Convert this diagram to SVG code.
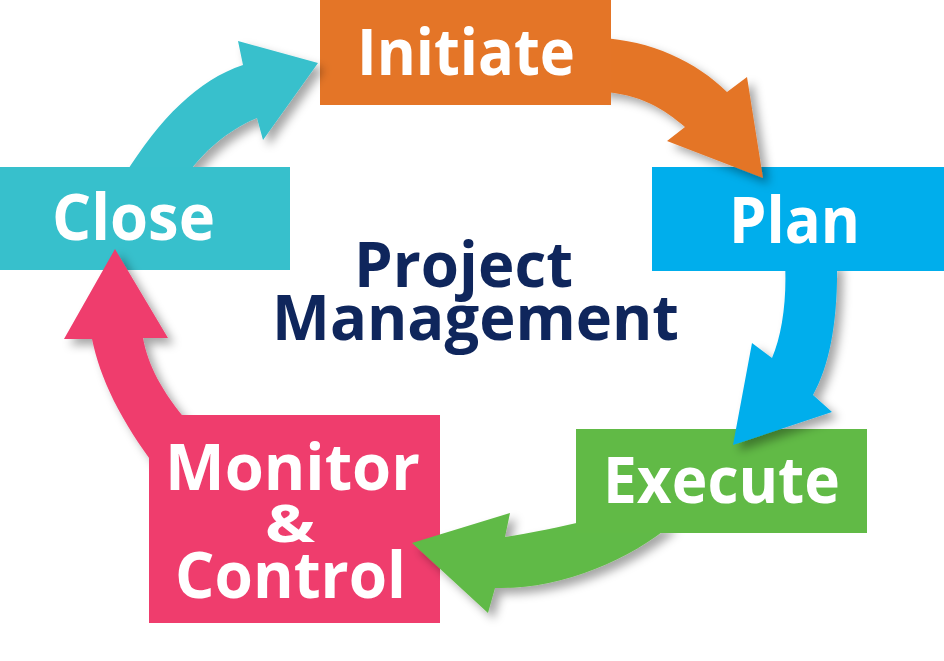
<svg xmlns="http://www.w3.org/2000/svg" width="944" height="661" viewBox="0 0 944 661">
  <defs>
    <filter id="shadow" x="-30%" y="-30%" width="160%" height="160%">
      <feGaussianBlur in="SourceAlpha" stdDeviation="5"/>
      <feOffset dx="6" dy="6" result="b"/>
      <feFlood flood-color="#000" flood-opacity="0.35"/>
      <feComposite in2="b" operator="in"/>
      <feMerge><feMergeNode/><feMergeNode in="SourceGraphic"/></feMerge>
    </filter>
    <clipPath id="noInitiate"><path clip-rule="evenodd" d="M0,0H944V661H0Z M320,0H611V105H320Z"/></clipPath>
    <clipPath id="noPlan"><path clip-rule="evenodd" d="M0,0H944V661H0Z M652,167H944V271H652Z"/></clipPath>
    <clipPath id="noExecute"><path clip-rule="evenodd" d="M0,0H944V661H0Z M576,429H867V533H576Z"/></clipPath>
    <clipPath id="noMonitor"><path clip-rule="evenodd" d="M0,0H944V661H0Z M149,415H440V623H149Z"/></clipPath>
    <clipPath id="noClose"><path clip-rule="evenodd" d="M0,0H944V661H0Z M0,167H290V270H0Z"/></clipPath>
  </defs>
  <style>
    .lbl { font-family: "Open Sans", "Liberation Sans", sans-serif; font-weight: 700; font-size: 64px; fill: #ffffff; }
    .title { font-family: "Open Sans", "Liberation Sans", sans-serif; font-weight: 700; font-size: 62px; fill: #0F265C; }
    .arrow { filter: url(#shadow); }
  </style>
  <rect width="944" height="661" fill="#ffffff"/>

  <g id="initiate">
    <rect x="320" y="0" width="291" height="105" fill="#E47527"/>
    <text class="lbl" x="357" y="75" textLength="218" lengthAdjust="spacingAndGlyphs">Initiate</text>
  </g>
  <g id="plan">
    <rect x="652" y="167" width="292" height="104" fill="#00AEEC"/>
    <text class="lbl" x="729" y="243" textLength="131" lengthAdjust="spacingAndGlyphs">Plan</text>
  </g>
  <g id="execute">
    <rect x="576" y="429" width="291" height="104" fill="#61BA46"/>
    <text class="lbl" x="603" y="503" textLength="237" lengthAdjust="spacingAndGlyphs">Execute</text>
  </g>
  <g id="monitor-control">
    <rect x="149" y="415" width="291" height="208" fill="#EF3D6D"/>
    <text class="lbl" x="165" y="490" textLength="255" lengthAdjust="spacingAndGlyphs">Monitor</text>
    <text class="lbl" x="265" y="542" font-size="52" style="font-size:52px" textLength="50" lengthAdjust="spacingAndGlyphs">&amp;</text>
    <text class="lbl" x="175" y="598" textLength="231" lengthAdjust="spacingAndGlyphs">Control</text>
  </g>
  <g id="close">
    <rect x="0" y="167" width="290" height="103" fill="#37C0CC"/>
    <text class="lbl" x="52" y="240" textLength="163" lengthAdjust="spacingAndGlyphs">Close</text>
  </g>
  <g id="center-title">
    <text class="title" x="354" y="287" textLength="219" lengthAdjust="spacingAndGlyphs">Project</text>
    <text class="title" x="272" y="340" textLength="407" lengthAdjust="spacingAndGlyphs">Management</text>
  </g>

  <g id="connectors">
    <g clip-path="url(#noInitiate)">
      <path class="arrow" fill="#E47527" d="M600,38 C650,40 697,62 727,92 L747,77 L763,178 L667,141 L685,127 C665,110 640,93 600,92 Z"/>
    </g>
    <g clip-path="url(#noPlan)">
      <path class="arrow" fill="#00AEEC" d="M785,262 L837,262 C838,320 830,365 813,395 L832,412 L733,445 L752,343 L772,358 C782,335 787,300 785,262 Z"/>
    </g>
    <g clip-path="url(#noExecute)">
      <path class="arrow" fill="#61BA46" d="M590,520 C560,527 530,533 505,537 L510,513 L412,543 L488,613 L495,588 C560,590 630,560 672,524 Z"/>
    </g>
    <g clip-path="url(#noMonitor)">
      <path class="arrow" fill="#EF3D6D" d="M158,470 C120,420 100,378 92,339 L64,339 L115,249 L168,338 L143,338 C148,365 162,392 188,422 Z"/>
    </g>
    <g clip-path="url(#noClose)">
      <path class="arrow" fill="#37C0CC" d="M124,176 C160,118 198,80 243,65 L238,41 L318,63 L263,140 L257,118 C235,127 208,145 186,176 Z"/>
    </g>
  </g>
</svg>
